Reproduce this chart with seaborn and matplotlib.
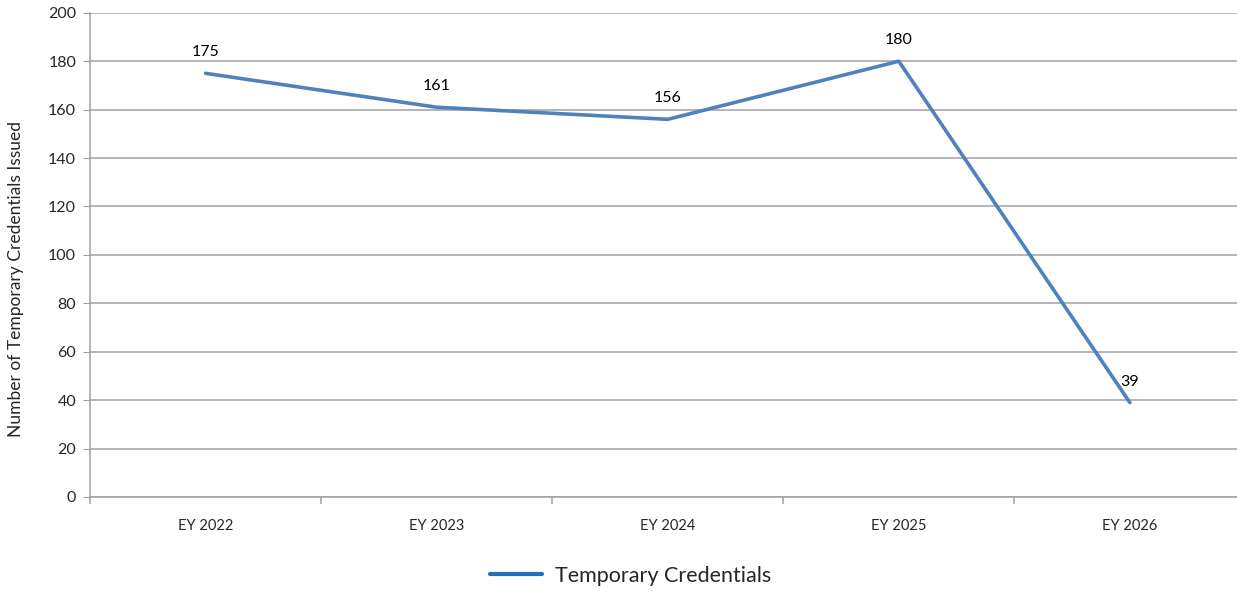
import pandas as pd
import matplotlib
matplotlib.use("Agg")
import matplotlib.pyplot as plt
import seaborn as sns
from matplotlib.lines import Line2D
from matplotlib.ticker import FixedLocator

# 数据
years = ["EY 2022", "EY 2023", "EY 2024", "EY 2025", "EY 2026"]
credentials = [175, 161, 156, 180, 39]
series_name = "Temporary Credentials"

sns.set_style("white")
plt.rcParams['font.family'] = ['Lato', 'DejaVu Sans']

df = pd.DataFrame({"年度": years, "数量": credentials})

fig = plt.figure(figsize=(12.37, 5.93), dpi=100)
ax = fig.add_axes([0.0728, 0.1619, 0.934, 0.8165])

sns.lineplot(data=df, x="年度", y="数量", sort=False, color="#4f81bd",
             linewidth=2.6, ax=ax, legend=False)

for i, v in enumerate(credentials):
    ax.annotate(str(v), (i, v), xytext=(0, 10), textcoords="offset points",
                ha="center", va="bottom", fontsize=11.5, color="black")

ax.set_xlim(-0.5, 4.5)
ax.set_ylim(0, 200)
ax.set_yticks(range(0, 201, 20))
ax.yaxis.grid(True, color="#a0a0a0", linewidth=1.1)
ax.xaxis.grid(False)

for side in ["top", "right"]:
    ax.spines[side].set_visible(False)
for side in ["left", "bottom"]:
    ax.spines[side].set_color("#a0a0a0")
    ax.spines[side].set_linewidth(1.1)

ax.tick_params(axis="y", length=5, color="#a0a0a0", labelsize=11.5, pad=5, left=True)
ax.tick_params(axis="x", which="major", length=0, labelsize=10.5, pad=16)
ax.xaxis.set_minor_locator(FixedLocator([-0.5, 0.5, 1.5, 2.5, 3.5, 4.5]))
ax.tick_params(axis="x", which="minor", length=5, color="#a0a0a0", width=1.1, bottom=True)

ax.set_xlabel("")
ax.set_ylabel("Number of Temporary Credentials Issued", fontsize=12.5)
ax.yaxis.set_label_coords(-0.057, 0.45)

handle = Line2D([0], [0], color="#1f70c1", linewidth=3)
fig.legend([handle], [series_name], loc="center", bbox_to_anchor=(0.51, 0.029),
           frameon=False, fontsize=15.5, handlelength=2.4, handletextpad=0.6)

fig.savefig("out.png", dpi=100)
